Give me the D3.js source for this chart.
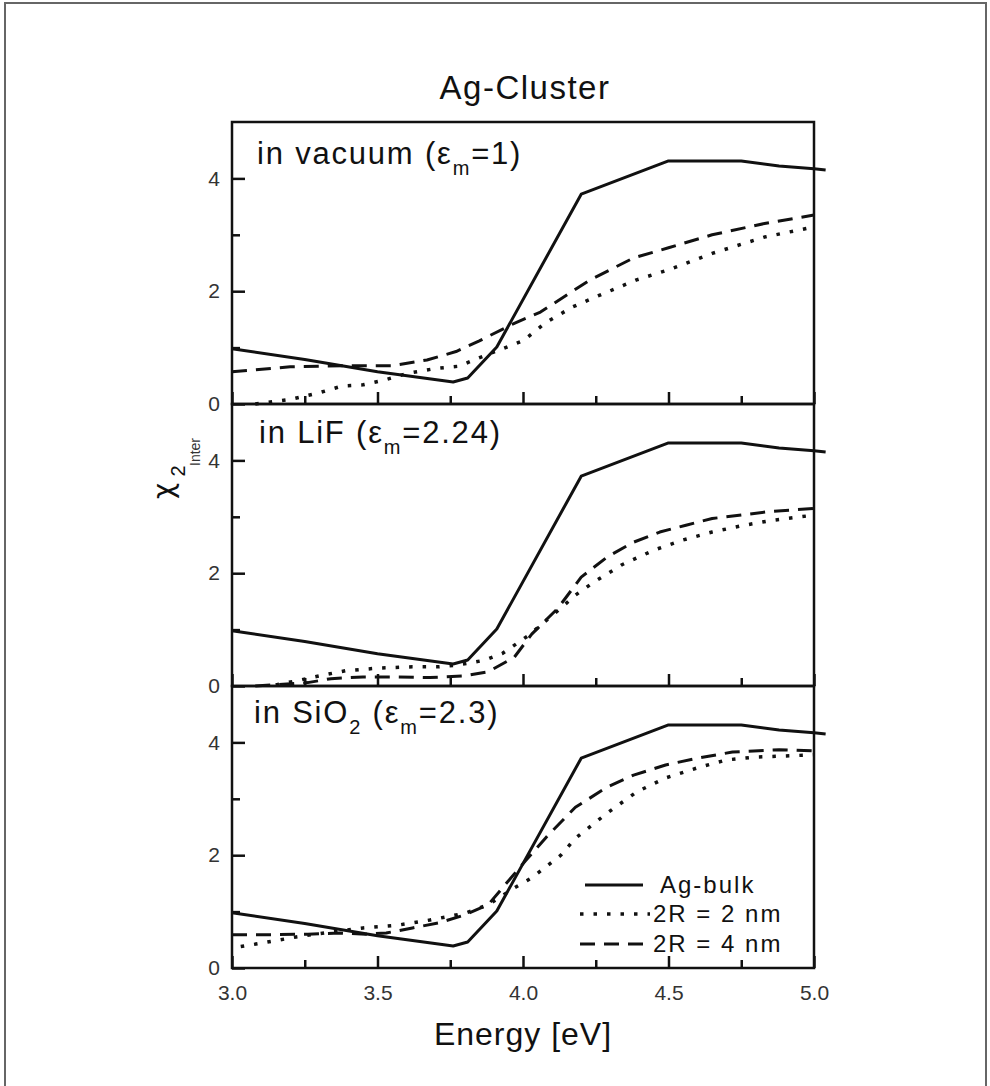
<!DOCTYPE html>
<html>
<head>
<meta charset="utf-8">
<script src="https://cdn.jsdelivr.net/npm/d3@7"></script>
<style>
  html, body { margin: 0; padding: 0; background: #fff; }
  svg { display: block; font-family: "Liberation Sans", Arial, sans-serif; }
</style>
</head>
<body>
<svg id="chart" width="990" height="1086"></svg>
<script>
// ---- data -------------------------------------------------------------
const panelNames = ["vacuum", "LiF", "SiO2"];

const xMajorTicks = [3.0, 3.5, 4.0, 4.5, 5.0];
const xMinorTicks = [3.25, 3.75, 4.25, 4.75];
const yMajorTicks = [0, 2, 4];
const yMinorTicks = [1, 3];

// Ag-bulk (same curve in every panel): [energy eV, chi2]
const agBulk = [
  [3.0, 0.98], [3.25, 0.79], [3.5, 0.57], [3.76, 0.39], [3.81, 0.46],
  [3.91, 1.01], [4.2, 3.72], [4.5, 4.31], [4.75, 4.31], [4.88, 4.22],
  [5.0, 4.17], [5.04, 4.15]
];

// in vacuum, eps_m = 1
const vacuum2nm = [
  [3.08, 0.0], [3.2, 0.08], [3.3, 0.2], [3.38, 0.32], [3.45, 0.34], [3.52, 0.42],
  [3.6, 0.54], [3.7, 0.63], [3.78, 0.67], [3.84, 0.8], [3.92, 0.96], [4.0, 1.12],
  [4.08, 1.45], [4.17, 1.72], [4.25, 1.9], [4.39, 2.2], [4.5, 2.38], [4.65, 2.67],
  [4.83, 2.96], [5.0, 3.14]
];
const vacuum4nm = [
  [3.0, 0.57], [3.2, 0.66], [3.4, 0.68], [3.55, 0.68], [3.67, 0.78], [3.77, 0.93],
  [3.85, 1.12], [3.97, 1.43], [4.06, 1.63], [4.23, 2.2], [4.38, 2.59], [4.5, 2.77],
  [4.65, 3.0], [4.83, 3.2], [5.0, 3.35]
];

// in LiF, eps_m = 2.24
const lif2nm = [
  [3.15, 0.02], [3.22, 0.09], [3.31, 0.19], [3.39, 0.27], [3.51, 0.32], [3.62, 0.34],
  [3.71, 0.34], [3.77, 0.37], [3.82, 0.41], [3.87, 0.46], [3.93, 0.58], [4.02, 0.9],
  [4.13, 1.38], [4.18, 1.61], [4.24, 1.83], [4.34, 2.15], [4.45, 2.41], [4.55, 2.59],
  [4.65, 2.73], [4.76, 2.85], [4.86, 2.94], [5.0, 3.03]
];
const lif4nm = [
  [3.08, 0.0], [3.26, 0.06], [3.34, 0.13], [3.45, 0.16], [3.57, 0.16], [3.68, 0.15],
  [3.8, 0.18], [3.88, 0.25], [3.97, 0.51], [4.03, 0.92], [4.12, 1.38], [4.2, 1.93],
  [4.29, 2.29], [4.38, 2.55], [4.47, 2.73], [4.56, 2.85], [4.65, 2.97], [4.75, 3.03],
  [4.84, 3.09], [5.0, 3.15]
];

// in SiO2, eps_m = 2.3
const sio2nm2 = [
  [3.03, 0.38], [3.1, 0.44], [3.22, 0.55], [3.34, 0.64], [3.45, 0.71], [3.57, 0.76],
  [3.68, 0.85], [3.8, 0.97], [3.88, 1.12], [3.97, 1.42], [4.03, 1.6], [4.13, 2.0],
  [4.18, 2.3], [4.29, 2.75], [4.39, 3.12], [4.49, 3.37], [4.6, 3.55], [4.7, 3.69],
  [4.8, 3.74], [5.0, 3.78]
];
const sio2nm4 = [
  [3.0, 0.59], [3.14, 0.59], [3.26, 0.6], [3.37, 0.62], [3.46, 0.6], [3.53, 0.62],
  [3.62, 0.71], [3.71, 0.8], [3.8, 0.94], [3.88, 1.12], [4.01, 1.91], [4.08, 2.32],
  [4.18, 2.85], [4.29, 3.21], [4.38, 3.42], [4.49, 3.6], [4.6, 3.72], [4.72, 3.83],
  [4.88, 3.87], [5.0, 3.85]
];

const panelSeries = {
  vacuum: { bulk: agBulk, r2: vacuum2nm, r4: vacuum4nm },
  LiF:    { bulk: agBulk, r2: lif2nm,    r4: lif4nm },
  SiO2:   { bulk: agBulk, r2: sio2nm2,   r4: sio2nm4 }
};

const legendLabels = ["Ag-bulk", "2R = 2 nm", "2R = 4 nm"];

// ---- layout -----------------------------------------------------------
const svg = d3.select("#chart");
const plotLeft = 232, plotRight = 814;
const panelTop0 = 122, panelH = 282;
const ink = "#111";

const styles = {
  bulk: { dash: null, width: 3 },
  r2:   { dash: "3.5,10", width: 3.5 },
  r4:   { dash: "15,9", width: 3 }
};

// outer frame of the figure
svg.append("rect")
  .attr("x", 5).attr("y", 3).attr("width", 981).attr("height", 1100)
  .attr("fill", "none").attr("stroke", "#666").attr("stroke-width", 2);

const x = d3.scaleLinear().domain([3, 5]).range([plotLeft, plotRight]);

// title
svg.append("text")
  .attr("x", 525).attr("y", 99)
  .attr("text-anchor", "middle")
  .style("font-size", "33px").style("letter-spacing", "1.5px")
  .attr("fill", ink)
  .text("Ag-Cluster");

const line = (y) => d3.line().x(d => x(d[0])).y(d => y(d[1]));

panelNames.forEach((name, i) => {
  const top = panelTop0 + i * panelH;
  const bottom = top + panelH;
  const y = d3.scaleLinear().domain([0, 5]).range([bottom, top]);
  const g = svg.append("g");

  // y axis: major ticks with labels, minor ticks without
  const yAxis = g.append("g")
    .attr("transform", `translate(${plotLeft},0)`)
    .call(d3.axisLeft(y).tickValues(yMajorTicks).tickSize(-13).tickPadding(12).tickFormat(d3.format("d")));
  yAxis.select(".domain").remove();
  yAxis.selectAll("line").attr("stroke", ink).attr("stroke-width", 2.5);
  yAxis.selectAll("text")
    .style("font-size", "21px").attr("fill", "#333")
    .style("font-family", "'Liberation Sans', Arial, sans-serif");

  const yMinor = g.append("g")
    .attr("transform", `translate(${plotLeft},0)`)
    .call(d3.axisLeft(y).tickValues(yMinorTicks).tickSize(-8).tickFormat(""));
  yMinor.select(".domain").remove();
  yMinor.selectAll("line").attr("stroke", ink).attr("stroke-width", 2.5);

  // x axis at the bottom of every panel, ticks pointing inward
  const xAxis = g.append("g")
    .attr("transform", `translate(0,${bottom})`)
    .call(d3.axisBottom(x).tickValues(xMajorTicks).tickSize(-12).tickPadding(17)
      .tickFormat(i === panelNames.length - 1 ? d3.format(".1f") : ""));
  xAxis.select(".domain").remove();
  xAxis.selectAll("line").attr("stroke", ink).attr("stroke-width", 2.5);
  xAxis.selectAll("text")
    .style("font-size", "21px").attr("fill", "#333")
    .style("font-family", "'Liberation Sans', Arial, sans-serif");

  const xMinor = g.append("g")
    .attr("transform", `translate(0,${bottom})`)
    .call(d3.axisBottom(x).tickValues(xMinorTicks).tickSize(-8).tickFormat(""));
  xMinor.select(".domain").remove();
  xMinor.selectAll("line").attr("stroke", ink).attr("stroke-width", 2.5);

  // curves
  const s = panelSeries[name];
  ["r2", "r4", "bulk"].forEach(key => {
    g.append("path")
      .datum(s[key])
      .attr("d", line(y))
      .attr("fill", "none")
      .attr("stroke", ink)
      .attr("stroke-width", styles[key].width)
      .attr("stroke-linejoin", "round")
      .attr("stroke-dasharray", styles[key].dash);
  });

  // panel frame
  g.append("rect")
    .attr("x", plotLeft).attr("y", top)
    .attr("width", plotRight - plotLeft).attr("height", panelH)
    .attr("fill", "none").attr("stroke", ink).attr("stroke-width", 2.5);
});

// panel labels with subscripts
const labelStyle = (t) => t.style("font-size", "31px").style("letter-spacing", "1.8px").attr("fill", ink);
function panelLabel(xPos, yPos, parts) {
  const t = svg.append("text").attr("x", xPos).attr("y", yPos).call(labelStyle);
  parts.forEach(p => {
    const ts = t.append("tspan").text(p.text);
    if (p.sub) ts.attr("dy", 11).style("font-size", "20px");
    if (p.after) ts.attr("dy", -11);
  });
}
panelLabel(257, 164, [{ text: "in vacuum (ε" }, { text: "m", sub: true }, { text: "=1)", after: true }]);
panelLabel(259, 443, [{ text: "in LiF (ε" }, { text: "m", sub: true }, { text: "=2.24)", after: true }]);
panelLabel(254, 723, [{ text: "in SiO" }, { text: "2", sub: true }, { text: " (ε", after: true },
                      { text: "m", sub: true }, { text: "=2.3)", after: true }]);

// y-axis label: chi_2^Inter, rotated
svg.append("text")
  .attr("transform", "translate(173,491) rotate(-90)")
  .attr("text-anchor", "middle")
  .style("font-family", "'DejaVu Sans', sans-serif")
  .style("font-size", "28px").attr("fill", ink)
  .text("χ");
svg.append("text")
  .attr("transform", "translate(185,471) rotate(-90)")
  .attr("text-anchor", "middle")
  .style("font-size", "20px").attr("fill", ink)
  .text("2");
svg.append("text")
  .attr("transform", "translate(200,452) rotate(-90)")
  .attr("text-anchor", "middle")
  .style("font-size", "14px").attr("fill", "#333")
  .text("Inter");

// x-axis title
svg.append("text")
  .attr("x", 523).attr("y", 1045)
  .attr("text-anchor", "middle")
  .style("font-size", "32px").style("letter-spacing", "1px").attr("fill", ink)
  .text("Energy [eV]");

// legend
const legendKeys = ["bulk", "r2", "r4"];
const legendY = [885, 914, 944];
const legend = svg.append("g");
legendKeys.forEach((k, i) => {
  const x0 = k === "bulk" ? 585 : 580;
  const x1 = k === "bulk" ? 643 : 650;
  legend.append("line")
    .attr("x1", x0).attr("x2", x1)
    .attr("y1", legendY[i]).attr("y2", legendY[i])
    .attr("stroke", ink).attr("stroke-width", styles[k].width)
    .attr("stroke-dasharray", styles[k].dash);
  legend.append("text")
    .attr("x", k === "bulk" ? 660 : 653).attr("y", legendY[i] + 8)
    .style("font-size", "24px").style("letter-spacing", "2px").attr("fill", ink)
    .text(legendLabels[i]);
});
</script>
</body>
</html>
